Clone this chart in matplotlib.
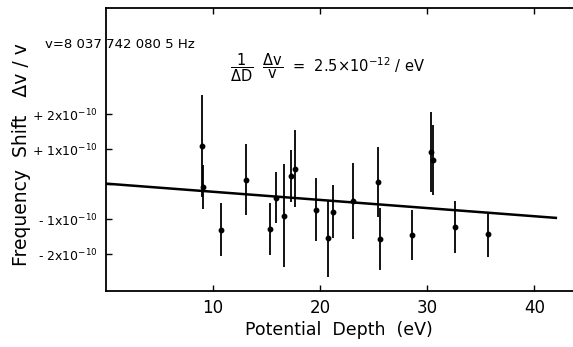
import matplotlib
matplotlib.use("Agg")
import matplotlib.pyplot as plt

# Data (y in units of 1e-10)
depth = [9.0, 9.1, 10.77, 13.08, 15.34, 15.87, 16.68, 17.33, 17.64,
         19.66, 20.78, 21.16, 23.08, 25.44, 25.56, 28.55, 30.35, 30.5,
         32.62, 35.69]
shift = [1.09, -0.08, -1.30, 0.13, -1.28, -0.38, -0.90, 0.23, 0.44,
         -0.73, -1.54, -0.78, -0.47, 0.07, -1.56, -1.45, 0.92, 0.69,
         -1.21, -1.43]
err = [1.46, 0.62, 0.76, 1.01, 0.75, 0.74, 1.47, 0.75, 1.10,
       0.90, 1.10, 0.75, 1.09, 1.00, 0.89, 0.72, 1.15, 1.00,
       0.74, 0.64]
fit_x = [0, 42]
fit_y = [0.02, -0.96]

xticks = [10, 20, 30, 40]
xticklabels = ["10", "20", "30", "40"]
yticks = [-2, -1, 0, 1, 2]
yticklabels = [r"- 2x10$^{-10}$", r"- 1x10$^{-10}$", "",
               r"+ 1x10$^{-10}$", r"+ 2x10$^{-10}$"]

plt.rcParams["mathtext.default"] = "regular"

fig = plt.figure(figsize=(5.73, 3.47), dpi=100)
ax = fig.add_axes([0.1845, 0.1614, 0.8155, 0.8156])

ax.errorbar(depth, shift, yerr=err, fmt="o", color="black", ms=3.2,
            elinewidth=1.3, capsize=0)
ax.plot(fit_x, fit_y, color="black", lw=1.8)

ax.set_xlim(0, 43.6)
ax.set_ylim(-3.05, 5.04)
ax.spines["right"].set_visible(False)
for s in ["left", "top", "bottom"]:
    ax.spines[s].set_linewidth(1.3)

ax.set_xticks(xticks)
ax.set_xticklabels(xticklabels, fontsize=12)
ax.set_yticks(yticks)
ax.set_yticklabels(yticklabels, fontsize=9)
ax.tick_params(axis="x", direction="in", top=True, length=4, width=1, pad=6)
ax.tick_params(axis="y", direction="in", length=4, width=1, pad=6)

ax.set_xlabel("Potential  Depth  (eV)", fontsize=12.5, labelpad=3)
fig.text(0.038, 0.555, "Frequency  Shift   Δv / v", rotation=90,
         fontsize=13.5, ha="center", va="center")

fig.text(0.078, 0.872, "v=8 037 742 080 5 Hz", fontsize=9.5,
         ha="left", va="center")
fig.text(0.402, 0.806,
         r"$\dfrac{1}{\Delta D}\ \ \dfrac{\Delta v}{v}$  =  2.5$\times$10$^{-12}$ / eV",
         fontsize=10.5, ha="left", va="center")

fig.savefig("out.png", dpi=100)
